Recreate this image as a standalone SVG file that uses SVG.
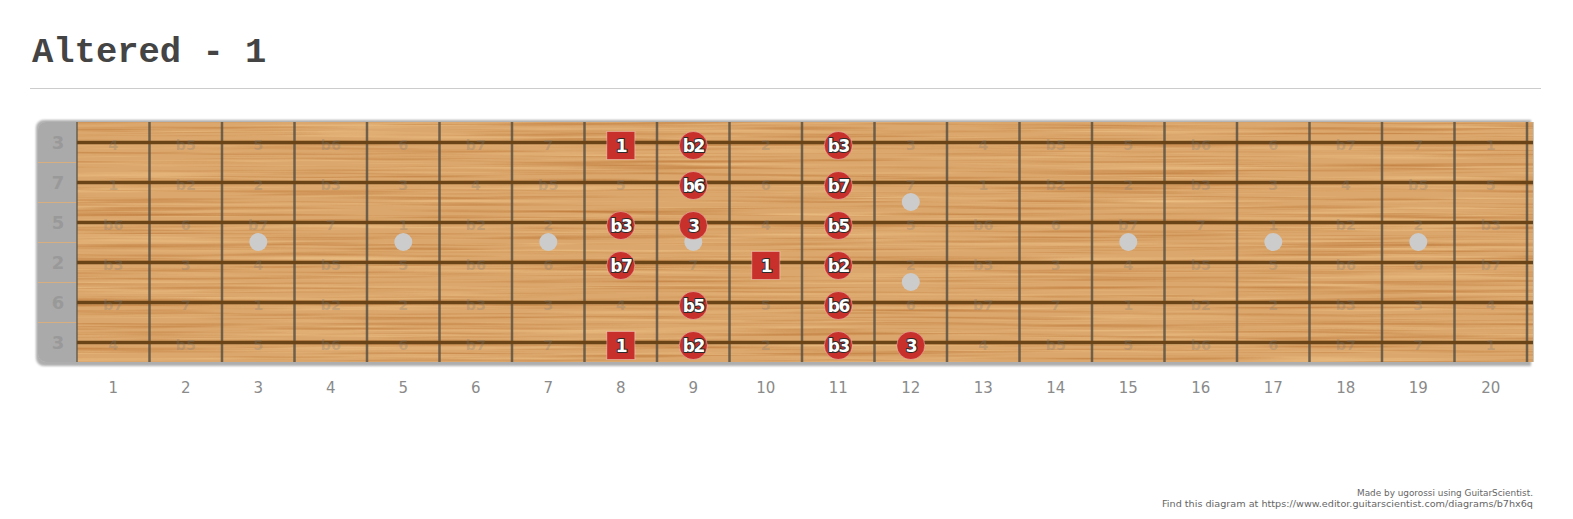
<svg xmlns="http://www.w3.org/2000/svg" width="1573" height="519" viewBox="0 0 1573 519">
<style>
.title{font-family:"Liberation Mono","Courier New",monospace;font-weight:bold;font-size:35.5px;fill:#444}
.fnum{font-family:"DejaVu Sans",Verdana,sans-serif;font-size:15px;fill:#8a8a8a;text-anchor:middle}
.slab{font-family:"DejaVu Sans",Verdana,sans-serif;font-weight:bold;font-size:18px;fill:#999;text-anchor:middle}
.faint{font-family:"DejaVu Sans",Verdana,sans-serif;font-weight:bold;font-size:14.5px;fill:#7a7a7a;fill-opacity:0.28;text-anchor:middle}
.note{fill:#c8302c;stroke:#ffffff;stroke-opacity:0.35;stroke-width:1}
.ntxt{font-family:"DejaVu Sans",Verdana,sans-serif;font-weight:bold;font-size:17px;fill:#fff;stroke:#2a2a2a;stroke-width:2;stroke-linejoin:round;paint-order:stroke;text-anchor:middle;letter-spacing:-1.5px}
.credit{font-family:"DejaVu Sans",Verdana,sans-serif;font-size:9.5px;fill:#666;text-anchor:end}
.fret{stroke:#5a5244;stroke-width:2.5;stroke-opacity:0.85}
.str{stroke:#6a4416;stroke-width:3.5}
.sep{stroke:#d6ae80;stroke-width:1}
.inlay{fill:#cccccc}
</style>
<defs>
<filter id="wood" x="0" y="0" width="1" height="1" color-interpolation-filters="sRGB">
<feTurbulence type="fractalNoise" baseFrequency="0.004 0.3" numOctaves="3" seed="7" result="t"/>
<feColorMatrix in="t" type="matrix" values="0 0 0 0 0.74  0 0 0 0 0.47  0 0 0 0 0.22  1.8 0 0 0 -0.85" result="dark"/>
<feColorMatrix in="t" type="matrix" values="0 0 0 0 0.94  0 0 0 0 0.78  0 0 0 0 0.55  0 1.6 0 0 -0.82" result="light"/>
<feFlood flood-color="#dca76c" result="bg"/>
<feMerge><feMergeNode in="bg"/><feMergeNode in="light"/><feMergeNode in="dark"/></feMerge>
</filter>
<filter id="blur" x="-5%" y="-5%" width="110%" height="110%"><feGaussianBlur stdDeviation="1.2"/></filter>
</defs>

<g id="title">
<text class="title" x="32" y="62">Altered - 1</text>
<line x1="30" y1="88.5" x2="1541" y2="88.5" stroke="#cccccc" stroke-width="1"/>
</g>

<g id="fretboard">
<path d="M36,126 a8,8 0 0 1 8,-8 H1531 V364 H44 a8,8 0 0 1 -8,-8 Z" transform="translate(0,2)" fill="#8c8c8c" opacity="0.7" filter="url(#blur)"/>
<path d="M38,130 a8,8 0 0 1 8,-8 H1534 V362 H46 a8,8 0 0 1 -8,-8 Z" fill="#c9c9c9"/>
<rect x="77" y="122" width="1456" height="240" fill="#dca76c" filter="url(#wood)"/>
<path d="M38,130 a8,8 0 0 1 8,-8 H77 V362 H46 a8,8 0 0 1 -8,-8 Z" fill="#aaaaaa"/>
<g class="sep">
<line x1="38" y1="162.5" x2="77" y2="162.5"/><line x1="38" y1="202.5" x2="77" y2="202.5"/><line x1="38" y1="242.5" x2="77" y2="242.5"/><line x1="38" y1="282.5" x2="77" y2="282.5"/><line x1="38" y1="322.5" x2="77" y2="322.5"/>
</g>
<g id="string-labels">
<text class="slab" x="58" y="149">3</text>
<text class="slab" x="58" y="189">7</text>
<text class="slab" x="58" y="229">5</text>
<text class="slab" x="58" y="269">2</text>
<text class="slab" x="58" y="309">6</text>
<text class="slab" x="58" y="349">3</text>
</g>
<g id="inlays" class="inlay">
<circle cx="258.3" cy="242" r="9"/><circle cx="403.3" cy="242" r="9"/><circle cx="548.3" cy="242" r="9"/><circle cx="693.3" cy="242" r="9"/>
<circle cx="910.8" cy="202" r="9"/><circle cx="910.8" cy="282" r="9"/>
<circle cx="1128.3" cy="242" r="9"/><circle cx="1273.3" cy="242" r="9"/><circle cx="1418.3" cy="242" r="9"/>
</g>
<g id="frets" class="fret">
<line x1="77" y1="122" x2="77" y2="362" stroke-width="1.5"/>
<line x1="149.5" y1="122" x2="149.5" y2="362"/><line x1="222" y1="122" x2="222" y2="362"/><line x1="294.5" y1="122" x2="294.5" y2="362"/><line x1="367" y1="122" x2="367" y2="362"/><line x1="439.5" y1="122" x2="439.5" y2="362"/><line x1="512" y1="122" x2="512" y2="362"/><line x1="584.5" y1="122" x2="584.5" y2="362"/><line x1="657" y1="122" x2="657" y2="362"/><line x1="729.5" y1="122" x2="729.5" y2="362"/><line x1="802" y1="122" x2="802" y2="362"/><line x1="874.5" y1="122" x2="874.5" y2="362"/><line x1="947" y1="122" x2="947" y2="362"/><line x1="1019.5" y1="122" x2="1019.5" y2="362"/><line x1="1092" y1="122" x2="1092" y2="362"/><line x1="1164.5" y1="122" x2="1164.5" y2="362"/><line x1="1237" y1="122" x2="1237" y2="362"/><line x1="1309.5" y1="122" x2="1309.5" y2="362"/><line x1="1382" y1="122" x2="1382" y2="362"/><line x1="1454.5" y1="122" x2="1454.5" y2="362"/><line x1="1527" y1="122" x2="1527" y2="362"/>
</g>
<g id="strings" class="str">
<line x1="77" y1="142.5" x2="1533" y2="142.5"/><line x1="77" y1="182.5" x2="1533" y2="182.5"/><line x1="77" y1="222.5" x2="1533" y2="222.5"/><line x1="77" y1="262.5" x2="1533" y2="262.5"/><line x1="77" y1="302.5" x2="1533" y2="302.5"/><line x1="77" y1="342.5" x2="1533" y2="342.5"/>
</g>
</g>

<g id="interval-labels" class="faint">
<g transform="translate(0,150)">
<text x="113.3">4</text><text x="185.8">b5</text><text x="258.3">5</text><text x="330.8">b6</text><text x="403.3">6</text><text x="475.8">b7</text><text x="548.3">7</text><text x="765.8">2</text><text x="910.8">3</text><text x="983.3">4</text><text x="1055.8">b5</text><text x="1128.3">5</text><text x="1200.8">b6</text><text x="1273.3">6</text><text x="1345.8">b7</text><text x="1418.3">7</text><text x="1490.8">1</text>
</g>
<g transform="translate(0,190)">
<text x="113.3">1</text><text x="185.8">b2</text><text x="258.3">2</text><text x="330.8">b3</text><text x="403.3">3</text><text x="475.8">4</text><text x="548.3">b5</text><text x="620.8">5</text><text x="765.8">6</text><text x="910.8">7</text><text x="983.3">1</text><text x="1055.8">b2</text><text x="1128.3">2</text><text x="1200.8">b3</text><text x="1273.3">3</text><text x="1345.8">4</text><text x="1418.3">b5</text><text x="1490.8">5</text>
</g>
<g transform="translate(0,230)">
<text x="113.3">b6</text><text x="185.8">6</text><text x="258.3">b7</text><text x="330.8">7</text><text x="403.3">1</text><text x="475.8">b2</text><text x="548.3">2</text><text x="765.8">4</text><text x="910.8">5</text><text x="983.3">b6</text><text x="1055.8">6</text><text x="1128.3">b7</text><text x="1200.8">7</text><text x="1273.3">1</text><text x="1345.8">b2</text><text x="1418.3">2</text><text x="1490.8">b3</text>
</g>
<g transform="translate(0,270)">
<text x="113.3">b3</text><text x="185.8">3</text><text x="258.3">4</text><text x="330.8">b5</text><text x="403.3">5</text><text x="475.8">b6</text><text x="548.3">6</text><text x="693.3">7</text><text x="910.8">2</text><text x="983.3">b3</text><text x="1055.8">3</text><text x="1128.3">4</text><text x="1200.8">b5</text><text x="1273.3">5</text><text x="1345.8">b6</text><text x="1418.3">6</text><text x="1490.8">b7</text>
</g>
<g transform="translate(0,310)">
<text x="113.3">b7</text><text x="185.8">7</text><text x="258.3">1</text><text x="330.8">b2</text><text x="403.3">2</text><text x="475.8">b3</text><text x="548.3">3</text><text x="620.8">4</text><text x="765.8">5</text><text x="910.8">6</text><text x="983.3">b7</text><text x="1055.8">7</text><text x="1128.3">1</text><text x="1200.8">b2</text><text x="1273.3">2</text><text x="1345.8">b3</text><text x="1418.3">3</text><text x="1490.8">4</text>
</g>
<g transform="translate(0,350)">
<text x="113.3">4</text><text x="185.8">b5</text><text x="258.3">5</text><text x="330.8">b6</text><text x="403.3">6</text><text x="475.8">b7</text><text x="548.3">7</text><text x="765.8">2</text><text x="983.3">4</text><text x="1055.8">b5</text><text x="1128.3">5</text><text x="1200.8">b6</text><text x="1273.3">6</text><text x="1345.8">b7</text><text x="1418.3">7</text><text x="1490.8">1</text>
</g>
</g>

<g id="notes">
<g id="n-s1-f8"><rect class="note" x="606.8" y="131.5" width="28" height="28"/><text class="ntxt" x="620.8" y="151.5">1</text></g>
<g id="n-s1-f9"><circle class="note" cx="693.3" cy="145.5" r="14"/><text class="ntxt" x="693.3" y="151.5">b2</text></g>
<g id="n-s1-f11"><circle class="note" cx="838.3" cy="145.5" r="14"/><text class="ntxt" x="838.3" y="151.5">b3</text></g>
<g id="n-s2-f9"><circle class="note" cx="693.3" cy="185.5" r="14"/><text class="ntxt" x="693.3" y="191.5">b6</text></g>
<g id="n-s2-f11"><circle class="note" cx="838.3" cy="185.5" r="14"/><text class="ntxt" x="838.3" y="191.5">b7</text></g>
<g id="n-s3-f8"><circle class="note" cx="620.8" cy="225.5" r="14"/><text class="ntxt" x="620.8" y="231.5">b3</text></g>
<g id="n-s3-f9"><circle class="note" cx="693.3" cy="225.5" r="14"/><text class="ntxt" x="693.3" y="231.5">3</text></g>
<g id="n-s3-f11"><circle class="note" cx="838.3" cy="225.5" r="14"/><text class="ntxt" x="838.3" y="231.5">b5</text></g>
<g id="n-s4-f8"><circle class="note" cx="620.8" cy="265.5" r="14"/><text class="ntxt" x="620.8" y="271.5">b7</text></g>
<g id="n-s4-f10"><rect class="note" x="751.8" y="251.5" width="28" height="28"/><text class="ntxt" x="765.8" y="271.5">1</text></g>
<g id="n-s4-f11"><circle class="note" cx="838.3" cy="265.5" r="14"/><text class="ntxt" x="838.3" y="271.5">b2</text></g>
<g id="n-s5-f9"><circle class="note" cx="693.3" cy="305.5" r="14"/><text class="ntxt" x="693.3" y="311.5">b5</text></g>
<g id="n-s5-f11"><circle class="note" cx="838.3" cy="305.5" r="14"/><text class="ntxt" x="838.3" y="311.5">b6</text></g>
<g id="n-s6-f8"><rect class="note" x="606.8" y="331.5" width="28" height="28"/><text class="ntxt" x="620.8" y="351.5">1</text></g>
<g id="n-s6-f9"><circle class="note" cx="693.3" cy="345.5" r="14"/><text class="ntxt" x="693.3" y="351.5">b2</text></g>
<g id="n-s6-f11"><circle class="note" cx="838.3" cy="345.5" r="14"/><text class="ntxt" x="838.3" y="351.5">b3</text></g>
<g id="n-s6-f12"><circle class="note" cx="910.8" cy="345.5" r="14"/><text class="ntxt" x="910.8" y="351.5">3</text></g>
</g>

<g id="connectors"/>

<g id="fret-numbers" class="fnum">
<text x="113.3" y="393">1</text><text x="185.8" y="393">2</text><text x="258.3" y="393">3</text><text x="330.8" y="393">4</text><text x="403.3" y="393">5</text><text x="475.8" y="393">6</text><text x="548.3" y="393">7</text><text x="620.8" y="393">8</text><text x="693.3" y="393">9</text><text x="765.8" y="393">10</text><text x="838.3" y="393">11</text><text x="910.8" y="393">12</text><text x="983.3" y="393">13</text><text x="1055.8" y="393">14</text><text x="1128.3" y="393">15</text><text x="1200.8" y="393">16</text><text x="1273.3" y="393">17</text><text x="1345.8" y="393">18</text><text x="1418.3" y="393">19</text><text x="1490.8" y="393">20</text>
</g>

<g id="credits" class="credit">
<text x="1533" y="496" textLength="176" lengthAdjust="spacingAndGlyphs">Made by ugorossi using GuitarScientist.</text>
<text x="1533" y="506.5" textLength="371" lengthAdjust="spacingAndGlyphs">Find this diagram at https://www.editor.guitarscientist.com/diagrams/b7hx6q</text>
</g>
</svg>
